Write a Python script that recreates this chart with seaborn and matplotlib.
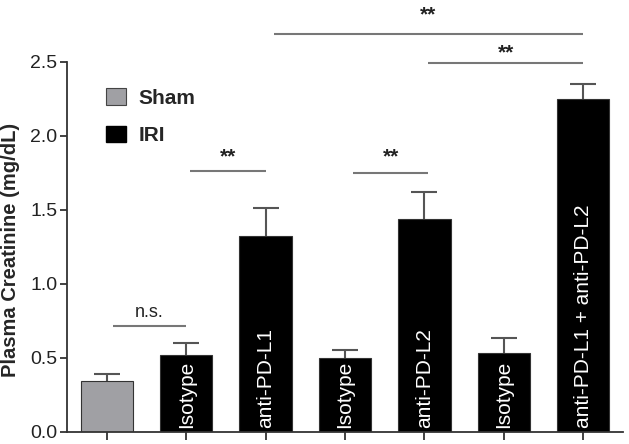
import matplotlib
matplotlib.use("Agg")
import matplotlib.pyplot as plt
import seaborn as sns
import pandas as pd
from matplotlib.patches import Patch

# ---- data ----
conditions = ["Sham", "Isotype", "anti-PD-L1", "Isotype", "anti-PD-L2", "Isotype", "anti-PD-L1 + anti-PD-L2"]
groups = ["Sham", "IRI", "IRI", "IRI", "IRI", "IRI", "IRI"]
means = [0.345, 0.515, 1.32, 0.50, 1.435, 0.53, 2.245]
errors = [0.045, 0.085, 0.19, 0.05, 0.185, 0.10, 0.105]
bar_labels = ["", "Isotype", "anti-PD-L1", "Isotype", "anti-PD-L2", "Isotype", "anti-PD-L1 + anti-PD-L2"]
# significance brackets: x start, x end, line height, label height, label
sig_x1 = [0.08, 1.05, 3.1, 4.05, 2.1]
sig_x2 = [1.0, 2.0, 4.05, 6.0, 6.0]
sig_y = [0.714, 1.76, 1.75, 2.49, 2.69]
sig_ty = [0.745, 1.79, 1.79, 2.495, 2.755]
sig_txt = ["n.s.", "**", "**", "**", "**"]
yticks = [0.0, 0.5, 1.0, 1.5, 2.0, 2.5]

sns.set_style("ticks")
plt.rcParams["font.family"] = ["Liberation Sans", "DejaVu Sans"]

palette = {"Sham": "#A0A0A4", "IRI": "#000000"}
df = pd.DataFrame({"pos": list(range(len(means))), "value": means, "group": groups})

fig = plt.figure(figsize=(6.29, 4.44), dpi=100)
ax = fig.add_axes([67 / 629, (444 - 431.7) / 444, (623 - 67) / 629, 370 / 444])

sns.barplot(data=df, x="pos", y="value", hue="group", palette=palette, dodge=False,
            width=0.66, errorbar=None, legend=False, ax=ax, linewidth=0.8,
            edgecolor="#333333", saturation=1, zorder=2)

ax.errorbar(df["pos"], means, yerr=errors, fmt="none",
            ecolor="#555555", elinewidth=1.5, capsize=9.5, capthick=1.5, zorder=1)

for i, lab in enumerate(bar_labels):
    if lab:
        ax.text(i, 0.025, lab, rotation=90, ha="center", va="bottom",
                color="white", fontsize=15, zorder=3)

for x1, x2, y, ty, t in zip(sig_x1, sig_x2, sig_y, sig_ty, sig_txt):
    ax.plot([x1, x2], [y, y], color="#777777", lw=1.5, clip_on=False,
            solid_capstyle="butt")
    if t == "n.s.":
        ax.text((x1 + x2) / 2, ty, t, ha="center", va="bottom", fontsize=13,
                color="#222222", clip_on=False)
    else:
        ax.text((x1 + x2) / 2, ty, t, ha="center", va="bottom", fontsize=15,
                fontweight="bold", color="#222222", clip_on=False)

ax.set_xlim(-0.5, 6.5)
ax.set_ylim(0, 2.5)
ax.set_yticks(yticks)
ax.set_yticklabels([f"{v:.1f}" for v in yticks])
ax.set_xticks(range(len(means)))
ax.set_xticklabels([])
ax.set_xlabel("")
ax.set_ylabel("Plasma Creatinine (mg/dL)", fontsize=14.5, fontweight="bold")
ax.yaxis.set_label_coords(-0.085, 0.49)
ax.tick_params(axis="y", labelsize=14, length=5, width=1.3, pad=2, color="#333333",
               labelcolor="#222222")
ax.tick_params(axis="x", length=6, width=1.3, color="#333333")
for s in ["left", "bottom"]:
    ax.spines[s].set_color("#333333")
    ax.spines[s].set_linewidth(1.3)
sns.despine(ax=ax)

handles = [Patch(facecolor=palette["Sham"], edgecolor="#444444", linewidth=0.8),
           Patch(facecolor=palette["IRI"], edgecolor="#000000")]
ax.legend(handles, ["Sham", "IRI"], loc="upper left", bbox_to_anchor=(0.07, 0.928),
          frameon=False, prop={"weight": "bold", "size": 15}, handlelength=0.95,
          handleheight=0.85, labelspacing=0.85, handletextpad=0.6, borderpad=0,
          borderaxespad=0)

fig.savefig("out.png", dpi=100)
